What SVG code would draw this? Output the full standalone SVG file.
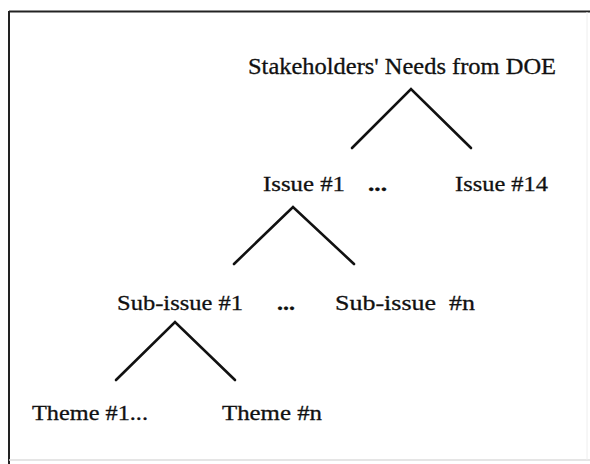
<svg xmlns="http://www.w3.org/2000/svg" width="590" height="464" viewBox="0 0 590 464">
<style>
.t{font-family:"Liberation Serif","Times New Roman",serif;fill:#111;stroke:#111;stroke-width:0.3;}
.c{stroke:#111;stroke-width:2.6;fill:none;stroke-linecap:round;stroke-linejoin:miter;}
</style>
<rect width="590" height="464" fill="#fff"/>
<g id="frame">
<line x1="9" y1="11.5" x2="590" y2="11.5" stroke="#222" stroke-width="2.2"/>
<line x1="9" y1="11" x2="9" y2="464" stroke="#222" stroke-width="2"/>
<line x1="9" y1="460" x2="590" y2="460" stroke="#ddd" stroke-width="1.5"/>
<line x1="587" y1="12" x2="587" y2="460" stroke="#eee" stroke-width="1"/>
</g>
<g id="connectors">
<polyline class="c" points="352,148 411,89 471,148"/>
<polyline class="c" points="234,264 293,207 354,264"/>
<polyline class="c" points="116,380 175,322 235,380"/>
</g>
<g id="root"><text class="t" x="248" y="74" font-size="23" textLength="308" lengthAdjust="spacingAndGlyphs">Stakeholders' Needs from DOE</text></g>
<g id="issue1"><text class="t" x="263" y="191" font-size="22" textLength="82" lengthAdjust="spacingAndGlyphs">Issue #1</text></g>
<g id="issue-dots"><text class="t" x="368" y="191" font-size="20" font-weight="bold" textLength="19" lengthAdjust="spacingAndGlyphs">...</text></g>
<g id="issue14"><text class="t" x="455" y="191" font-size="22" textLength="93" lengthAdjust="spacingAndGlyphs">Issue #14</text></g>
<g id="subissue1"><text class="t" x="117" y="310" font-size="22" textLength="126" lengthAdjust="spacingAndGlyphs">Sub-issue #1</text></g>
<g id="subissue-dots"><text class="t" x="277" y="310" font-size="21" font-weight="bold" textLength="18" lengthAdjust="spacingAndGlyphs">...</text></g>
<g id="subissuen"><text class="t" x="335" y="310" font-size="22" textLength="140" lengthAdjust="spacingAndGlyphs" xml:space="preserve">Sub-issue  #n</text></g>
<g id="theme1"><text class="t" x="32" y="420" font-size="21" textLength="116" lengthAdjust="spacingAndGlyphs">Theme #1...</text></g>
<g id="themen"><text class="t" x="222" y="420" font-size="21" textLength="100" lengthAdjust="spacingAndGlyphs">Theme #n</text></g>
</svg>
